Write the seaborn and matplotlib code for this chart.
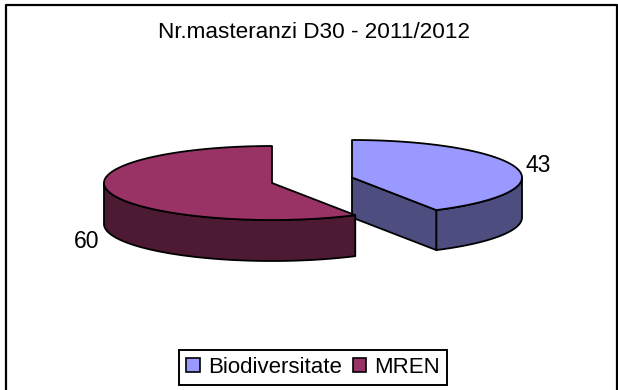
import numpy as np
import matplotlib
matplotlib.use("Agg")
import matplotlib.pyplot as plt
from matplotlib.patches import Patch
import seaborn as sns

title = "Nr.masteranzi D30 - 2011/2012"
categories = ["Biodiversitate", "MREN"]
values = [43, 60]
top_colors = ["#9999FF", "#993366"]
side_colors = ["#4D4D80", "#4D1A33"]

sns.set_theme(style="white")
plt.rcParams["font.family"] = ["Liberation Sans", "DejaVu Sans"]

fig, ax = plt.subplots(figsize=(6.18, 3.90), dpi=100)
ax.set_position([0, 0, 1, 1])
ax.set_xlim(0, 618)
ax.set_ylim(390, 0)
ax.axis("off")

# frame of the chart area
ax.plot([6, 6, 616.5, 616.5], [390, 5, 5, 390], color="black", lw=1.6, zorder=1)

centers = [(352, 177.5), (272, 183)]
radii = [(170, 37.5), (168, 37)]
depths = [40, 41]
fractions = np.cumsum([0] + values) / sum(values) * 2 * np.pi
slices = list(zip(fractions[:-1], fractions[1:]))


def rim(cx, cy, a, b, t0, t1):
    t = np.linspace(t0, t1, 240)
    return cx + a * np.sin(t), cy - b * np.cos(t)


for i, (t0, t1) in enumerate(slices):
    cx, cy = centers[i]
    a, b = radii[i]
    d = depths[i]
    z = 2 + i * 2
    ex, ey = rim(cx, cy, a, b, t0, t1)
    # visible part of the rim: lower half of the ellipse
    lo, hi = max(t0, np.pi / 2), min(t1, 3 * np.pi / 2)
    sx, sy = rim(cx, cy, a, b, lo, hi)
    ax.fill(np.r_[sx, sx[::-1]], np.r_[sy, sy[::-1] + d],
            fc=side_colors[i], ec="black", lw=1.3, zorder=z, joinstyle="round")
    if i == 0:
        # cut face towards the viewer
        mx, my = rim(cx, cy, a, b, t1, t1)
        ax.fill([cx, mx[0], mx[0], cx], [cy, my[0], my[0] + d, cy + d],
                fc=side_colors[i], ec="black", lw=1.3, zorder=z)
    ax.fill(np.r_[cx, ex], np.r_[cy, ey], fc=top_colors[i], ec="black",
            lw=1.3, zorder=z + 1, joinstyle="round")

ax.text(314.5, 32, title, ha="center", va="center", fontsize=16.2, color="black")
ax.text(538, 166, str(values[0]), ha="center", va="center", fontsize=16.5, color="black")
ax.text(87, 241, str(values[1]), ha="center", va="center", fontsize=16.5, color="black")

handles = [Patch(fc=c, ec="black", lw=1.2, label=l) for c, l in zip(top_colors, categories)]
leg = ax.legend(handles=handles, ncol=2, loc="center", bbox_to_anchor=(313 / 618, 1 - 367.5 / 390),
                frameon=True, fancybox=False, edgecolor="black", framealpha=1,
                fontsize=16, handlelength=0.62, handleheight=0.62, handletextpad=0.35,
                columnspacing=0.5, borderpad=0.32, borderaxespad=0, labelcolor="black")
leg.get_frame().set_linewidth(1.4)

fig.savefig("out.png", dpi=100)
